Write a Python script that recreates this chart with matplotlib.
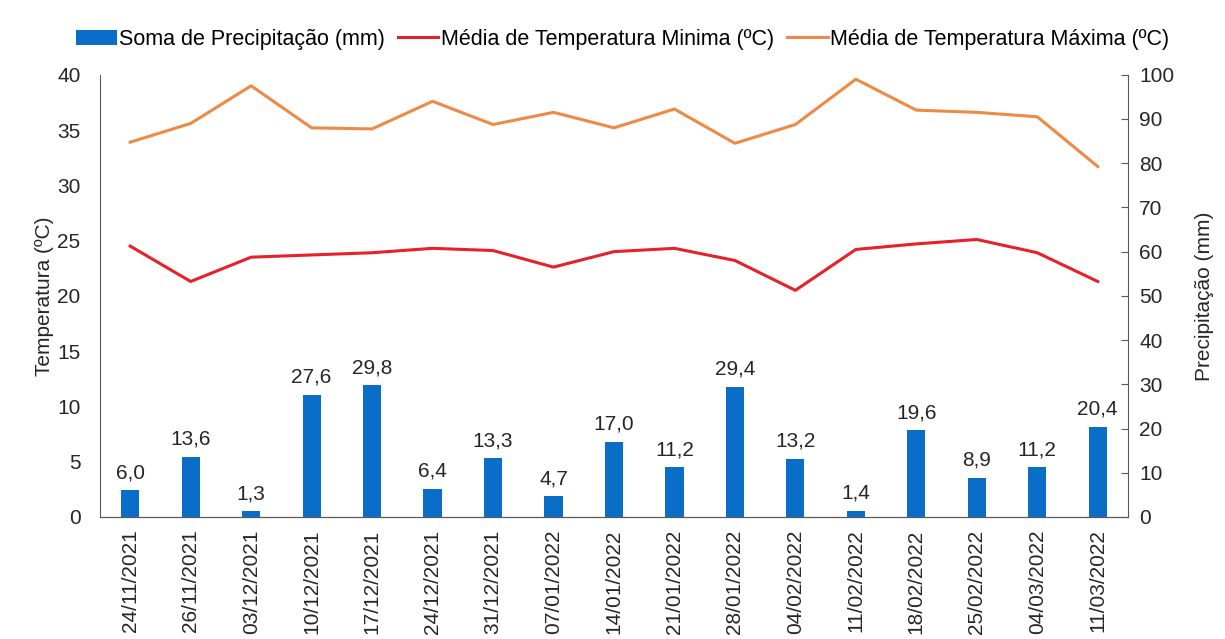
import matplotlib.pyplot as plt
import numpy as np

plt.rcParams['font.family'] = ['Liberation Sans', 'DejaVu Sans']

datas = ['24/11/2021', '26/11/2021', '03/12/2021', '10/12/2021', '17/12/2021',
         '24/12/2021', '31/12/2021', '07/01/2022', '14/01/2022', '21/01/2022',
         '28/01/2022', '04/02/2022', '11/02/2022', '18/02/2022', '25/02/2022',
         '04/03/2022', '11/03/2022']
precipitacao = [6.0, 13.6, 1.3, 27.6, 29.8, 6.4, 13.3, 4.7, 17.0, 11.2,
                29.4, 13.2, 1.4, 19.6, 8.9, 11.2, 20.4]
temp_min = [24.5, 21.3, 23.5, 23.7, 23.9, 24.3, 24.1, 22.6, 24.0, 24.3,
            23.2, 20.5, 24.2, 24.7, 25.1, 23.9, 21.3]
temp_max = [33.9, 35.6, 39.0, 35.2, 35.1, 37.6, 35.5, 36.6, 35.2, 36.9,
            33.8, 35.5, 39.6, 36.8, 36.6, 36.2, 31.7]

azul = '#0A6EC8'
vermelho = '#E8202A'
laranja = '#EE8A45'
cinza = '#595959'
fs = 15

fig = plt.figure(figsize=(12.25, 6.39), dpi=100)
ax = fig.add_axes([0.0816, 0.191, 0.8392, 0.692])
ax2 = ax.twinx()

x = np.arange(len(datas))

# barras no eixo da direita
barras = ax2.bar(x, precipitacao, width=0.3, color=azul, label='Soma de Precipitação (mm)', zorder=2)
for xi, v in zip(x, precipitacao):
    ax2.text(xi, v + 1.8, f'{v:.1f}'.replace('.', ','), ha='center', va='bottom',
             fontsize=fs, color='#262626')

# linhas no eixo da esquerda
l1, = ax.plot(x, temp_min, color=vermelho, lw=2.2, label='Média de Temperatura Minima (ºC)')
l2, = ax.plot(x, temp_max, color=laranja, lw=2.2, label='Média de Temperatura Máxima (ºC)')
ax.set_zorder(ax2.get_zorder() + 1)
ax.patch.set_visible(False)

ax.set_xlim(-0.5, len(datas) - 0.5)
ax.set_ylim(0, 40)
ax.set_yticks(range(0, 41, 5))
ax2.set_ylim(0, 100)
ax2.set_yticks(range(0, 101, 10))

ax.set_xticks(x)
ax.set_xticklabels(datas, rotation=90, fontsize=fs, color='#262626')
ax.tick_params(axis='x', length=0, pad=9)
ax.tick_params(axis='y', length=0, labelsize=fs, labelcolor='#262626', pad=14)
ax2.tick_params(axis='y', direction='in', length=5, color=cinza, labelsize=fs,
                labelcolor='#262626', pad=8)

ax.set_ylabel('Temperatura (ºC)', fontsize=fs, color='#262626', labelpad=2)
ax2.set_ylabel('Precipitação (mm)', fontsize=fs, color='#262626', labelpad=15)

for a in (ax, ax2):
    a.spines['top'].set_visible(False)
    for s in ('left', 'right', 'bottom'):
        a.spines[s].set_color(cinza)
ax.spines['right'].set_visible(False)
ax2.spines['left'].set_visible(False)

fig.legend(handles=[barras, l1, l2], loc='upper center', bbox_to_anchor=(0.508, 0.985),
           ncol=3, frameon=False, fontsize=15.5, handlelength=1.9, handletextpad=0.1,
           columnspacing=0.6)

fig.savefig('out.png', dpi=100)
